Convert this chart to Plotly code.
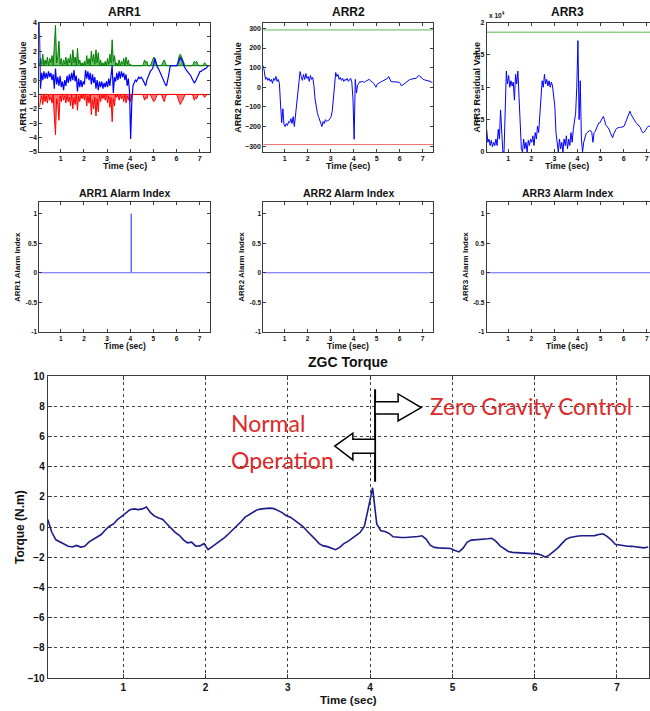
import numpy as np
import plotly.graph_objects as go

# ---------------- DATA ----------------
T0_ARR = 0.07      # first sample time of the ARR signals (s)
DT = 0.05          # sample spacing (s)
T0_TORQUE = 0.08

ARR1_UPPER = [1.0, 1.5, 1.1, 1.8, 1.0, 1.4, 1.1, 1.6, 1.0, 1.5,
              1.2, 1.7, 1.0, 2.8, 3.8, 1.2, 1.6, 2.7, 1.1, 1.5,
              1.0, 1.4, 1.1, 1.6, 1.0, 1.5, 1.2, 1.8, 1.0, 2.1,
              1.2, 1.6, 1.0, 2.2, 1.1, 1.4, 1.0, 1.2, 1.0, 1.3,
              1.0, 1.7, 1.1, 1.5, 1.0, 2.0, 1.3, 1.8, 1.1, 2.1,
              1.2, 1.9, 1.0, 1.4, 1.0, 1.2, 1.0, 1.3, 1.0, 1.5,
              1.1, 1.8, 1.2, 2.8, 1.3, 1.7, 1.0, 1.2, 1.0, 1.4,
              1.0, 1.3, 1.1, 1.5, 1.0, 1.6, 1.1, 1.4, 1.0, 1.1,
              1.0, 1.0, 1.0, 1.0, 1.0, 1.0, 1.0, 1.0, 1.0, 1.0,
              1.1, 1.4, 1.2, 1.3, 1.0, 1.0, 1.0, 1.2, 1.4, 1.6,
              1.5, 1.2, 1.0, 1.0, 1.0, 1.0, 1.1, 1.3, 1.4, 1.2,
              1.0, 1.0, 1.0, 1.0, 1.0, 1.0, 1.0, 1.0, 1.0, 1.0,
              1.3, 1.7, 1.8, 1.6, 1.5, 1.2, 1.0, 1.0, 1.0, 1.0,
              1.0, 1.0, 1.0, 1.1, 1.3, 1.2, 1.3, 1.1, 1.0, 1.0,
              1.0, 1.0, 1.1, 1.2, 1.1, 1.0, 1.0, 1.0]

ARR1_LOWER = [-1.9, -1.4, -1.1, -1.7, -1.0, -1.5, -1.1, -1.6, -1.0, -1.4,
              -1.2, -1.6, -1.0, -2.6, -3.8, -1.3, -1.7, -2.8, -1.1, -1.5,
              -1.0, -1.4, -1.1, -1.6, -1.0, -1.5, -1.2, -1.8, -1.0, -2.0,
              -1.2, -1.7, -1.0, -2.1, -1.1, -1.5, -1.0, -1.3, -1.0, -1.4,
              -1.0, -1.8, -1.1, -1.6, -1.0, -2.4, -1.4, -2.0, -1.2, -2.5,
              -1.3, -2.2, -1.0, -1.5, -1.0, -1.3, -1.0, -1.4, -1.0, -1.6,
              -1.1, -1.9, -1.2, -2.9, -1.3, -1.8, -1.0, -1.2, -1.0, -1.4,
              -1.0, -1.3, -1.1, -1.5, -1.0, -1.6, -1.1, -1.4, -1.0, -1.5,
              -1.0, -1.0, -1.0, -1.0, -1.0, -1.0, -1.0, -1.0, -1.0, -1.0,
              -1.1, -1.4, -1.2, -1.3, -1.0, -1.0, -1.0, -1.2, -1.4, -1.5,
              -1.4, -1.2, -1.0, -1.0, -1.0, -1.0, -1.1, -1.3, -1.5, -1.2,
              -1.0, -1.0, -1.0, -1.0, -1.0, -1.0, -1.0, -1.0, -1.0, -1.0,
              -1.3, -1.6, -1.7, -1.5, -1.4, -1.2, -1.0, -1.0, -1.0, -1.0,
              -1.0, -1.0, -1.0, -1.1, -1.4, -1.2, -1.3, -1.1, -1.0, -1.0,
              -1.0, -1.0, -1.1, -1.2, -1.1, -1.0, -1.0, -1.0]

ARR1_RESIDUAL = [4.0, -0.6, 0.5, 0.0, 0.6, 0.1, 0.5, 0.1, 0.6, 0.2,
                 0.5, 0.0, 0.4, -0.6, 0.8, -0.3, 0.2, -0.4, 0.3, -0.5,
                 -0.1, -0.7, 0.0, -0.4, 0.3, -0.2, 0.4, -0.1, 0.5, 0.0,
                 0.7, -0.1, 0.3, -0.8, 0.1, -0.5, 0.0, -0.5, -0.1, -0.3,
                 0.7, 0.1, 0.6, 0.0, 0.5, -0.3, 0.4, -0.2, 0.2, -0.6,
                 0.0, -0.7, -0.1, -0.5, -0.1, -0.6, -0.2, -0.5, -0.1, -0.5,
                 0.1, -0.4, 0.3, 1.0, -0.9, 0.2, -0.1, 0.5, 0.0, 0.6,
                 0.1, 0.6, 0.2, 0.5, 0.0, 0.4, -0.4, 0.1, -0.8, -4.1,
                 -1.5, -0.4, -0.2, 0.0, -0.1, 0.1, 0.2, 0.1, 0.2, 0.1,
                 -0.1, -0.3, -0.4, 0.0, 0.3, 0.4, 0.6, 0.7, 0.8, 1.1,
                 1.5, 1.2, 0.9, 0.8, 0.6, 0.4, 0.3, 0.1, -0.1, -0.3,
                 -0.4, -0.1, 0.4, 0.9, 1.0, 1.0, 1.0, 1.0, 1.0, 1.0,
                 1.2, 1.5, 1.6, 1.4, 1.3, 1.0, 0.8, 0.7, 0.6, 0.5,
                 0.4, 0.3, 0.1, -0.1, -0.2, -0.1, 0.1, 0.3, 0.5, 0.6,
                 0.6, 0.7, 0.7, 0.8, 0.8, 0.9, 1.0, 1.0]
ARR1_UPPER_BASE = 1.0
ARR1_LOWER_BASE = -1.0

ARR2_RESIDUAL = [110, 60, 40, 50, 35, 45, 30, 40, 20, 45,
                 35, 55, 30, 40, 20, -90, -180, -110, -190, -200,
                 -185, -195, -175, -180, -160, -185, -150, -200, -140, -110,
                 -40, 30, 80, 55, 35, 65, 40, 70, 45, 55,
                 30, 60, 40, 50, 10, -60, -100, -130, -150, -170,
                 -185, -200, -175, -185, -165, -175, -170, -168, -160, -150,
                 -120, -50, 20, 75, 55, 65, 40, 50, 35, 45,
                 30, 40, 35, 45, 30, 40, 45, 25, -60, -265,
                 40, -30, 10, 20, 30, 25, 30, 28, 25, 30,
                 35, 38, 40, 35, 30, 25, 20, 10, 0, 15,
                 20, 25, 28, 30, 32, 35, 38, 40, 45, 55,
                 45, 30, 28, 27, 26, 25, 25, 25, 26, 20,
                 8, 10, 15, 20, 28, 30, 35, 38, 40, 42,
                 40, 42, 45, 45, 50, 60, 58, 50, 42, 40,
                 38, 37, 36, 35, 32, 30, 26, 25]
ARR2_UPPER = 292
ARR2_LOWER = -292

ARR3_RESIDUAL_E4 = [0.35, 0.15, 0.2, 0.1, 0.18, 0.08, 0.15, 0.1, 0.2, 0.1,
                    0.35, 0.2, 0.65, 0.4, 0.0, 0.0, 0.9, 1.25, 1.05, 1.18,
                    1.0, 1.1, 1.02, 1.08, 0.8, 1.2, 1.05, 1.25, 0.85, 0.5,
                    0.05, 0.0, 0.2, 0.05, 0.15, 0.0, 0.18, 0.1, 0.2, 0.15,
                    0.25, 0.1, 0.3, 0.2, 0.4, 0.3, 0.6, 0.8, 1.1, 1.0,
                    1.2, 1.05, 1.12, 1.02, 1.1, 1.0, 1.08, 1.02, 0.9, 0.7,
                    0.3, 0.1, 0.0, 0.2, 0.05, 0.15, 0.0, 0.2, 0.1, 0.25,
                    0.05, 0.2, 0.1, 0.3, 0.15, 0.35, 0.45, 0.6, 1.0, 1.72,
                    0.5, 1.1, 0.2, 0.0, 0.15, 0.22, 0.28, 0.3, 0.32, 0.33,
                    0.33, 0.3, 0.15, 0.3, 0.32, 0.36, 0.4, 0.45, 0.45, 0.48,
                    0.5, 0.55, 0.5, 0.42, 0.4, 0.38, 0.35, 0.3, 0.25, 0.22,
                    0.28, 0.32, 0.35, 0.37, 0.38, 0.38, 0.38, 0.38, 0.39, 0.4,
                    0.45, 0.48, 0.53, 0.57, 0.63, 0.58, 0.55, 0.5, 0.48, 0.46,
                    0.44, 0.42, 0.4, 0.38, 0.33, 0.3, 0.3, 0.32, 0.35, 0.38,
                    0.4, 0.4, 0.38, 0.35, 0.38, 0.42, 0.45, 0.45]
ARR3_UPPER_E4 = 1.85

ALARM1_T = [0.07, 4.04, 4.04, 4.05, 4.05, 7.45]
ALARM1 = [0, 0, 1, 1, 0, 0]
ALARM2 = [0, 0]
ALARM3 = [0, 0]
ALARM_T = [0.07, 7.45]

TORQUE = [0.5, -0.35, -0.85, -1.0, -1.15, -1.27, -1.32, -1.22, -1.33, -1.28,
          -1.0, -0.85, -0.68, -0.5, -0.2, 0.05, 0.2, 0.5, 0.7, 0.95,
          1.15, 1.2, 1.15, 1.2, 1.33, 0.95, 0.72, 0.6, 0.5, 0.2,
          -0.1, -0.35, -0.55, -0.85, -1.05, -1.0, -1.27, -1.25, -1.1, -1.5,
          -1.3, -1.1, -0.92, -0.7, -0.45, -0.2, 0.1, 0.35, 0.65, 0.8,
          0.95, 1.15, 1.2, 1.22, 1.25, 1.22, 1.1, 0.95, 0.75, 0.65,
          0.45, 0.25, 0.05, -0.25, -0.5, -0.8, -1.1, -1.25, -1.3, -1.38,
          -1.5, -1.35, -1.1, -0.95, -0.72, -0.55, -0.35, 0.05, 1.3, 2.6,
          0.2, -0.25, -0.3, -0.42, -0.65, -0.7, -0.7, -0.7, -0.68, -0.67,
          -0.63, -0.58, -0.8, -1.2, -1.35, -1.38, -1.4, -1.4, -1.42, -1.55,
          -1.65, -1.4, -1.0, -0.87, -0.85, -0.85, -0.85, -0.78, -0.75, -0.95,
          -1.25, -1.45, -1.62, -1.68, -1.7, -1.7, -1.7, -1.72, -1.73, -1.78,
          -1.85, -2.0, -1.85, -1.65, -1.4, -1.1, -0.82, -0.7, -0.63, -0.6,
          -0.58, -0.58, -0.58, -0.57, -0.5, -0.45, -0.62, -0.85, -1.15, -1.2,
          -1.25, -1.27, -1.28, -1.3, -1.35, -1.38, -1.33]

SECONDS = [1, 2, 3, 4, 5, 6, 7]
ARR1_TICKS = [-5, -4, -3, -2, -1, 0, 1, 2, 3, 4]
ARR2_TICKS = [-300, -200, -100, 0, 100, 200, 300]
ARR3_TICKS = [0, 0.5, 1, 1.5, 2]
ALARM_TICKS = [-1, -0.5, 0, 0.5, 1]
TORQUE_TICKS = [-10, -8, -6, -4, -2, 0, 2, 4, 6, 8, 10]

# ---------------- FIGURE ----------------
W, H = 650, 711
t_arr = np.round(T0_ARR + DT * np.arange(len(ARR1_RESIDUAL)), 3)
t_tq = np.round(T0_TORQUE + DT * np.arange(len(TORQUE)), 3)

def px(x):
    return x / W

def py(y):
    return 1 - y / H

FONT = "Liberation Sans, Arial, sans-serif"
BLUE = "#0000ff"
AX = "#3a3a3a"

fig = go.Figure()
# ARR1: thresholds (drawn as dense spikes from their base level) and residual
fig.add_trace(go.Scatter(x=t_arr, y=[ARR1_UPPER_BASE] * len(t_arr), mode="lines", line=dict(color="#008000", width=1), xaxis="x", yaxis="y"))
fig.add_trace(go.Scatter(x=t_arr, y=ARR1_UPPER, mode="lines", line=dict(color="#008000", width=1), fill="tonexty", fillcolor="rgba(0,128,0,0.55)", xaxis="x", yaxis="y"))
fig.add_trace(go.Scatter(x=t_arr, y=[ARR1_LOWER_BASE] * len(t_arr), mode="lines", line=dict(color="#ff0000", width=1), xaxis="x", yaxis="y"))
fig.add_trace(go.Scatter(x=t_arr, y=ARR1_LOWER, mode="lines", line=dict(color="#ff0000", width=1), fill="tonexty", fillcolor="rgba(255,0,0,0.55)", xaxis="x", yaxis="y"))
fig.add_trace(go.Scatter(x=t_arr, y=ARR1_RESIDUAL, mode="lines", line=dict(color=BLUE, width=1.2), xaxis="x", yaxis="y"))

fig.add_trace(go.Scatter(x=[t_arr[0], 7.45], y=[ARR2_UPPER] * 2, mode="lines", line=dict(color="#5cb85c", width=1), xaxis="x2", yaxis="y2"))
fig.add_trace(go.Scatter(x=[t_arr[0], 7.45], y=[ARR2_LOWER] * 2, mode="lines", line=dict(color="#f07070", width=1), xaxis="x2", yaxis="y2"))
fig.add_trace(go.Scatter(x=t_arr, y=ARR2_RESIDUAL, mode="lines", line=dict(color=BLUE, width=1), xaxis="x2", yaxis="y2"))

fig.add_trace(go.Scatter(x=[t_arr[0], 7.45], y=[ARR3_UPPER_E4] * 2, mode="lines", line=dict(color="#8fd08f", width=1.5), xaxis="x3", yaxis="y3"))
fig.add_trace(go.Scatter(x=t_arr, y=ARR3_RESIDUAL_E4, mode="lines", line=dict(color=BLUE, width=1), xaxis="x3", yaxis="y3"))

fig.add_trace(go.Scatter(x=ALARM1_T, y=ALARM1, mode="lines", line=dict(color="#6060ff", width=1), xaxis="x4", yaxis="y4"))
fig.add_trace(go.Scatter(x=ALARM_T, y=ALARM2, mode="lines", line=dict(color="#6060ff", width=1), xaxis="x5", yaxis="y5"))
fig.add_trace(go.Scatter(x=ALARM_T, y=ALARM3, mode="lines", line=dict(color="#6060ff", width=1), xaxis="x6", yaxis="y6"))

fig.add_trace(go.Scatter(x=t_tq, y=TORQUE, mode="lines", line=dict(color="#1c1c8a", width=1.6), xaxis="x7", yaxis="y7"))


def axis(domain, anchor, rng, tickvals, ticktext=None, size=7, grid=False, mirror="ticks",
         ticklen=3, standoff=0):
    d = dict(domain=domain, anchor=anchor, range=rng, tickvals=tickvals,
             showline=True, linecolor=AX, linewidth=1, mirror=mirror,
             ticks="inside", ticklen=ticklen, tickcolor=AX, tickwidth=1,
             tickfont=dict(family=FONT, size=size, color="#111", weight="bold"),
             zeroline=False, showgrid=grid, automargin=False, fixedrange=True,
             ticklabelstandoff=standoff)
    if ticktext is not None:
        d["ticktext"] = ticktext
    if grid:
        d.update(gridcolor="#444", griddash="dot", gridwidth=1)
    return d

TOP = [py(152), py(22.5)]
MID = [py(331.7), py(202)]
C1 = [px(39.3), px(210)]
C2 = [px(263.3), px(433)]
C3 = [px(486.7), 1.0]
XR = [0.07, 7.45]
AL = ["-1", "-0.5", "0", "0.5", "1"]

layout = dict(
    width=W, height=H, margin=dict(l=0, r=0, t=0, b=0),
    paper_bgcolor="white", plot_bgcolor="white", showlegend=False,
    template="none",
    xaxis=axis(C1, "y", XR, SECONDS),
    yaxis=axis(TOP, "x", [-5, 4], ARR1_TICKS),
    xaxis2=axis(C2, "y2", XR, SECONDS),
    yaxis2=axis(TOP, "x2", [-330, 330], ARR2_TICKS),
    xaxis3=axis(C3, "y3", [0.07, 7.14], SECONDS),
    yaxis3=axis(TOP, "x3", [0, 2], ARR3_TICKS, ["0", "0.5", "1", "1.5", "2"], mirror=False),
    xaxis4=axis(C1, "y4", XR, SECONDS, size=6.5),
    yaxis4=axis(MID, "x4", [-1, 1.2], ALARM_TICKS, AL, size=6.5),
    xaxis5=axis(C2, "y5", XR, SECONDS, size=6.5),
    yaxis5=axis(MID, "x5", [-1, 1.2], ALARM_TICKS, AL, size=6.5),
    xaxis6=axis(C3, "y6", [0.07, 7.14], SECONDS, size=6.5),
    yaxis6=axis(MID, "x6", [-1, 1.2], ALARM_TICKS, AL, size=6.5, mirror=False),
    xaxis7=axis([px(47.7), px(649)], "y7", [0.08, 7.39], SECONDS, size=10, grid=True, ticklen=4),
    yaxis7=axis([py(678), py(376)], "x7", [-10, 10], TORQUE_TICKS, size=10, grid=True, ticklen=4),
)
fig.update_layout(**layout)

ann = []
def text(x, y, s, size, bold=True, angle=0, color="#111", family=FONT, xanchor="center"):
    ann.append(dict(x=x, y=y, xref="paper", yref="paper", text=(f"<b>{s}</b>" if bold else s),
                    showarrow=False, textangle=angle, xanchor=xanchor, yanchor="middle",
                    font=dict(family=family, size=size, color=color)))

# panel titles
text(px(124.6), py(12), "ARR1", 12)
text(px(348), py(12), "ARR2", 12)
text(px(567), py(12), "ARR3", 12)
text(px(124.6), py(193), "ARR1 Alarm Index", 10.5)
text(px(348), py(193), "ARR2 Alarm Index", 10.5)
text(px(567), py(193), "ARR3 Alarm Index", 10.5)
text(px(348), py(362), "ZGC Torque", 14)
# x titles
for cx in (124.6, 348, 567):
    text(px(cx), py(166), "Time (sec)", 9)
    text(px(cx), py(346), "Time (sec)", 8.5)
text(px(348), py(700), "Time (sec)", 11.5)
# y titles
text(px(23), py(87), "ARR1 Residual Value", 9, angle=-90)
text(px(237.7), py(87), "ARR2 Residual Value", 9, angle=-90)
text(px(476.5), py(87), "ARR3 Residual Value", 9, angle=-90)
text(px(17), py(267), "ARR1 Alarm Index", 8, angle=-90)
text(px(240.7), py(267), "ARR2 Alarm Index", 8, angle=-90)
text(px(464.7), py(267), "ARR3 Alarm Index", 8, angle=-90)
text(px(20), py(527), "Torque (N.m)", 12, angle=-90)
# exponent label
text(px(487), py(15), "x 10<sup>4</sup>", 6.5, xanchor="left")

# red annotations on torque chart
RED = "#dc2a2a"
LATO = "Lato, Open Sans, sans-serif"
ann.append(dict(x=4.70, y=7.95, xref="x7", yref="y7", text="Zero Gravity Control", showarrow=False,
                xanchor="left", yanchor="middle", font=dict(family=LATO, size=22.5, color=RED)))
ann.append(dict(x=2.29, y=6.89, xref="x7", yref="y7", text="Normal", showarrow=False,
                xanchor="left", yanchor="middle", font=dict(family=LATO, size=23, color=RED)))
ann.append(dict(x=2.29, y=4.44, xref="x7", yref="y7", text="Operation", showarrow=False,
                xanchor="left", yanchor="middle", font=dict(family=LATO, size=23, color=RED)))
fig.update_layout(annotations=ann)

# divider line and hollow arrows (annotation graphics, data coords of torque axes)
SWITCH_T = 4.06
fig.add_shape(type="line", xref="x7", yref="y7", x0=SWITCH_T, x1=SWITCH_T, y0=3.0, y1=9.12,
              line=dict(color="black", width=2))
right_arrow = (f"M {SWITCH_T} 8.3 L 4.34 8.3 L 4.34 8.81 L 4.62 7.91 L 4.34 7.02 "
               f"L 4.34 7.48 L {SWITCH_T} 7.48 Z")
left_arrow = (f"M {SWITCH_T} 5.81 L 3.79 5.81 L 3.79 6.21 L 3.57 5.36 L 3.79 4.44 "
              f"L 3.79 4.88 L {SWITCH_T} 4.88 Z")
for p in (right_arrow, left_arrow):
    fig.add_shape(type="path", xref="x7", yref="y7", path=p,
                  line=dict(color="black", width=1.5), fillcolor="white")

fig.write_html("out.html", config={"displayModeBar": False},
               post_script="document.body.style.margin='0';document.body.style.overflow='hidden';")
